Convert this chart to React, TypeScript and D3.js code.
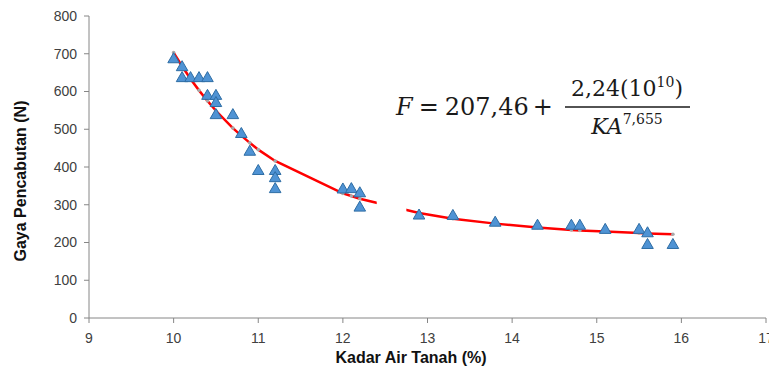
import React from "react";
import * as d3 from "d3";

// observed points (kadar air %, gaya N)
const kadarAir = [10.0, 10.1, 10.1, 10.2, 10.3, 10.4, 10.4, 10.5, 10.5, 10.5, 10.7, 10.8, 10.9, 11.0, 11.2, 11.2, 11.2, 12.0, 12.1, 12.2, 12.2, 12.9, 13.3, 13.8, 14.3, 14.7, 14.8, 15.1, 15.5, 15.6, 15.6, 15.9];
const gaya = [685, 664, 635, 635, 635, 635, 588, 588, 569, 537, 537, 487, 440, 389, 389, 370, 341, 340, 341, 330, 292, 271, 270, 252, 244, 244, 244, 233, 233, 224, 193, 193];

// fitted curve
const fitX = [10.0, 10.1, 10.2, 10.3, 10.4, 10.5, 10.7, 10.8, 10.9, 11.0, 11.2, 12.0, 12.1, 12.2, 12.9, 13.3, 13.8, 14.3, 14.7, 14.8, 15.1, 15.5, 15.6, 15.9];
const fitY = [703, 667, 633, 603, 575, 549, 503, 483, 464, 446, 416, 330, 323, 316, 278, 263, 250, 240, 233, 232, 229, 225, 224, 222];
// part of the trend line hidden behind the label box
const hidden = [12.4, 12.75];

const xTicks = [9, 10, 11, 12, 13, 14, 15, 16, 17];
const yTicks = [0, 100, 200, 300, 400, 500, 600, 700, 800];

const W = 769, H = 374;
const axisColor = "#868686";
const labelColor = "#404040";
const font = "'Liberation Sans', Arial, sans-serif";

export default function App() {
  const x = d3.scaleLinear().domain([9, 17]).range([89, 766]);
  const y = d3.scaleLinear().domain([0, 800]).range([318, 16]);

  const fit = fitX.map((v, i) => [v, fitY[i]] as [number, number]);
  const line = d3.line<[number, number]>().x(d => x(d[0])).y(d => y(d[1]))(fit) || "";
  const tri = d3.symbol(d3.symbolTriangle, 58)() || "";

  return (
    <svg width={W} height={H} style={{ position: "absolute", left: 0, top: 0, background: "#fff" }}>
      <defs>
        <clipPath id="gap">
          <rect x={0} y={0} width={x(hidden[0])} height={H} />
          <rect x={x(hidden[1])} y={0} width={W - x(hidden[1])} height={H} />
        </clipPath>
      </defs>

      {/* axes */}
      <line x1={x(9)} x2={x(17)} y1={y(0)} y2={y(0)} stroke={axisColor} strokeWidth={1} />
      <line x1={x(9)} x2={x(9)} y1={y(0)} y2={y(800)} stroke={axisColor} strokeWidth={1} />
      {yTicks.map(t => (
        <g key={"y" + t}>
          <line x1={x(9) - 5} x2={x(9)} y1={y(t)} y2={y(t)} stroke={axisColor} />
          <text x={77} y={y(t)} dy="0.35em" textAnchor="end" fontFamily={font} fontSize={14} fill={labelColor}>{t}</text>
        </g>
      ))}
      {xTicks.map(t => (
        <g key={"x" + t}>
          <line x1={x(t)} x2={x(t)} y1={y(0)} y2={y(0) + 5} stroke={axisColor} />
          <text x={x(t)} y={343} textAnchor="middle" fontFamily={font} fontSize={14} fill={labelColor}>{t}</text>
        </g>
      ))}

      <text x={411} y={363} textAnchor="middle" fontFamily={font} fontWeight="bold" fontSize={16} fill="#111">Kadar Air Tanah (%)</text>
      <text transform={`translate(26,${y(400) + 14}) rotate(-90)`} textAnchor="middle" fontFamily={font} fontWeight="bold" fontSize={16} fill="#111">Gaya Pencabutan (N)</text>

      {/* trend line */}
      <g clipPath="url(#gap)">
        <path d={line} fill="none" stroke="#ff0000" strokeWidth={2.5} />
        {fit.map((d, i) => (
          <circle key={i} cx={x(d[0])} cy={y(d[1])} r={1.8} fill="#a8a8a8" />
        ))}
      </g>

      {/* observations */}
      {kadarAir.map((v, i) => (
        <path key={i} d={tri} transform={`translate(${x(v)},${y(gaya[i])})`} fill="#4f93d4" stroke="#2e6da4" strokeWidth={1} />
      ))}

      {/* equation */}
      <g fontFamily="'DejaVu Serif', 'Liberation Serif', serif" fill="#1a1a1a">
        <text x={396} y={115} fontSize={24}>
          <tspan fontStyle="italic">F</tspan>
          <tspan dx={6}>=</tspan>
          <tspan dx={6}>207,46</tspan>
          <tspan dx={4}>+</tspan>
        </text>
        <text x={627} y={96} fontSize={22} textAnchor="middle">
          2,24(10<tspan fontSize={14} dy={-9}>10</tspan><tspan dy={9}>)</tspan>
        </text>
        <line x1={565} x2={690} y1={107} y2={107} stroke="#1a1a1a" strokeWidth={1.5} />
        <text x={627} y={134} fontSize={22} textAnchor="middle">
          <tspan fontStyle="italic">KA</tspan>
          <tspan fontSize={14} dy={-10}>7,655</tspan>
        </text>
      </g>
    </svg>
  );
}
